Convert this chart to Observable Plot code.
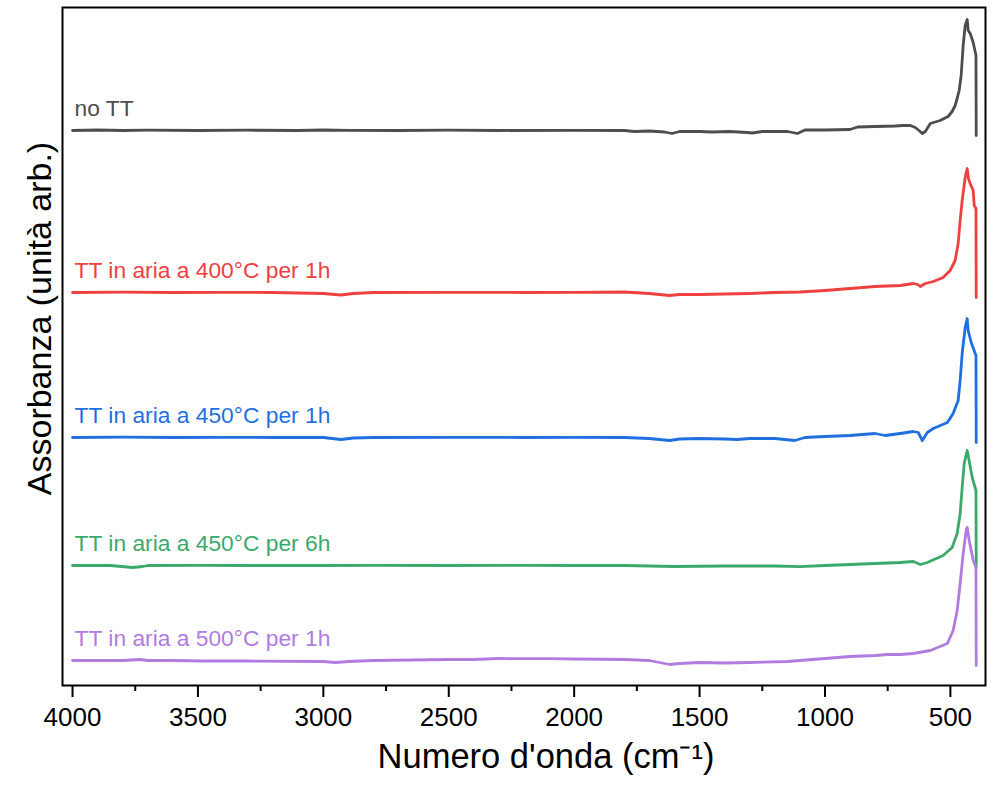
<!DOCTYPE html>
<html>
<head>
<meta charset="utf-8">
<script src="https://cdn.jsdelivr.net/npm/d3@7"></script>
<script src="https://cdn.jsdelivr.net/npm/@observablehq/plot@0.6"></script>
<style>
  html, body { margin: 0; padding: 0; background: #fff; }
</style>
</head>
<body>
<div id="chart"></div>
<script>
// Series names (labels) and colours
const seriesNames = [
  "no TT",
  "TT in aria a 400°C per 1h",
  "TT in aria a 450°C per 1h",
  "TT in aria a 450°C per 6h",
  "TT in aria a 500°C per 1h"
];
const seriesColors = ["#4d4d4d", "#ef4040", "#1f6fe0", "#3aaa6b", "#b27be0"];
// vertical stacking offsets (arbitrary units)
const seriesOffsets = [5.55, 3.93, 2.48, 1.20, 0.25];

// spectra: [wavenumber (cm-1), absorbance relative to baseline (a.u.)]
const noTT = [[4000,0],[3900,0.005],[3800,0],[3700,0.003],[3500,0],[3300,0.003],[3100,0],[3000,0.005],[2900,0.002],[2700,0],[2500,0.003],[2300,0],[2000,0.002],[1800,0],[1760,-0.01],[1700,-0.005],[1640,-0.015],[1610,-0.03],[1580,-0.01],[1500,-0.01],[1450,-0.015],[1380,-0.01],[1310,-0.02],[1290,-0.025],[1250,-0.01],[1150,-0.01],[1110,-0.03],[1080,0.005],[1000,0.005],[900,0.01],[870,0.035],[800,0.04],[720,0.045],[690,0.05],[660,0.05],[640,0.03],[625,0.0],[612,-0.03],[600,-0.01],[580,0.07],[541,0.1],[509,0.14],[493,0.19],[481,0.25],[473,0.32],[465,0.4],[457,0.55],[449,0.85],[441,1.05],[433,1.11],[429,1.0],[421,0.97],[409,0.88],[398,0.75],[397,-0.05]];

const tt400_1h = [[4000,0],[3800,0.003],[3600,0],[3400,0.002],[3200,0],[3000,-0.01],[2930,-0.025],[2880,-0.01],[2800,0],[2500,0.002],[2200,0],[2000,0.002],[1800,0.005],[1700,-0.01],[1620,-0.03],[1580,-0.02],[1500,-0.02],[1400,-0.015],[1300,-0.01],[1200,0],[1100,0.005],[1000,0.02],[900,0.04],[800,0.06],[700,0.07],[648,0.09],[630,0.08],[620,0.06],[600,0.09],[568,0.11],[529,0.15],[501,0.22],[481,0.32],[469,0.49],[461,0.72],[453,0.92],[441,1.15],[437,1.2],[433,1.24],[428,1.14],[421,1.09],[409,1.02],[405,0.87],[398,0.84],[397,-0.05]];

const tt450_1h = [[4000,0],[3800,0.003],[3600,0],[3400,0.002],[3200,0],[3000,0],[2930,-0.02],[2880,-0.005],[2800,0],[2500,0.002],[2200,0],[2000,0.002],[1800,0],[1700,-0.01],[1620,-0.03],[1580,-0.015],[1500,-0.01],[1400,-0.015],[1350,-0.02],[1300,-0.01],[1200,-0.01],[1120,-0.03],[1080,0],[1000,0.01],[900,0.02],[800,0.04],[760,0.02],[700,0.04],[648,0.06],[628,0.05],[612,-0.03],[592,0.05],[568,0.09],[512,0.15],[489,0.24],[469,0.37],[461,0.57],[453,0.84],[441,1.1],[433,1.19],[429,1.07],[417,0.95],[401,0.84],[398,0.82],[397,-0.05]];

const tt450_6h = [[4000,0],[3850,0],[3760,-0.02],[3720,-0.01],[3700,0],[3500,0.002],[3300,0],[3000,0],[2800,0.002],[2500,0],[2200,0.002],[2000,0],[1800,0],[1700,-0.005],[1600,-0.01],[1400,-0.005],[1200,-0.005],[1100,-0.012],[1000,0],[900,0.01],[800,0.02],[700,0.03],[648,0.04],[620,0.01],[592,0.03],[529,0.1],[493,0.18],[473,0.32],[461,0.52],[453,0.78],[445,1.02],[433,1.15],[429,1.1],[413,0.88],[398,0.75],[397,-0.02]];

const tt500_1h = [[4000,0],[3800,0],[3730,0.01],[3700,0],[3600,0],[3480,-0.005],[3300,-0.005],[3000,-0.01],[2950,-0.02],[2900,-0.01],[2800,0],[2500,0.01],[2400,0.01],[2300,0.02],[2100,0.018],[2000,0.015],[1800,0.01],[1700,0],[1620,-0.04],[1580,-0.03],[1500,-0.02],[1400,-0.025],[1300,-0.02],[1150,-0.01],[1000,0.02],[900,0.04],[800,0.05],[750,0.06],[700,0.06],[648,0.07],[580,0.1],[512,0.17],[489,0.3],[473,0.5],[461,0.77],[449,1.07],[437,1.3],[433,1.33],[425,1.2],[409,1.0],[398,0.93],[397,-0.05]];

const spectra = [noTT, tt400_1h, tt450_1h, tt450_6h, tt500_1h];

// x ticks
const majorTicks = [4000, 3500, 3000, 2500, 2000, 1500, 1000, 500];
const minorTicks = [3750, 3250, 2750, 2250, 1750, 1250, 750];

const xTitle = "Numero d'onda (cm⁻¹)";
const yTitle = "Assorbanza (unità arb.)";

// Build table
const rows = [];
spectra.forEach((s, i) => {
  s.forEach(([wn, a]) => rows.push({series: seriesNames[i], wn, abs: a + seriesOffsets[i]}));
});
const labelRows = seriesNames.map((n, i) => ({series: n, wn: 3992, abs: seriesOffsets[i] + 0.22}));

const font = "'Liberation Sans', Arial, Helvetica, sans-serif";

const chart = Plot.plot({
  width: 994,
  height: 788,
  marginLeft: 62,
  marginRight: 9,
  marginTop: 7,
  marginBottom: 103,
  style: {fontFamily: font, background: "#fff", color: "#000"},
  x: {domain: [4040, 360], axis: null},
  y: {domain: [0, 6.78], axis: null},
  color: {domain: seriesNames, range: seriesColors},
  marks: [
    Plot.line(rows, {x: "wn", y: "abs", z: "series", stroke: "series", strokeWidth: 2.8, strokeLinejoin: "round"}),
    Plot.text(labelRows, {x: "wn", y: "abs", text: "series", fill: "series", textAnchor: "start", fontSize: 22.8}),
    Plot.axisX({ticks: minorTicks, tickSize: 6, tickFormat: null, strokeWidth: 2, label: null, text: null}),
    Plot.axisX({ticks: majorTicks, tickSize: 12, tickPadding: 10, tickFormat: d => String(d), strokeWidth: 2, fontSize: 26, label: null}),
    Plot.frame({stroke: "#000", strokeWidth: 2}),
    Plot.text([xTitle], {frameAnchor: "bottom", dx: 22, dy: 82, fontSize: 34.5, fill: "#000"}),
    Plot.text([yTitle], {frameAnchor: "left", rotate: -90, textAnchor: "middle", dx: -22, dy: -28, fontSize: 34, fill: "#000"})
  ]
});
document.getElementById("chart").appendChild(chart);
</script>
</body>
</html>
